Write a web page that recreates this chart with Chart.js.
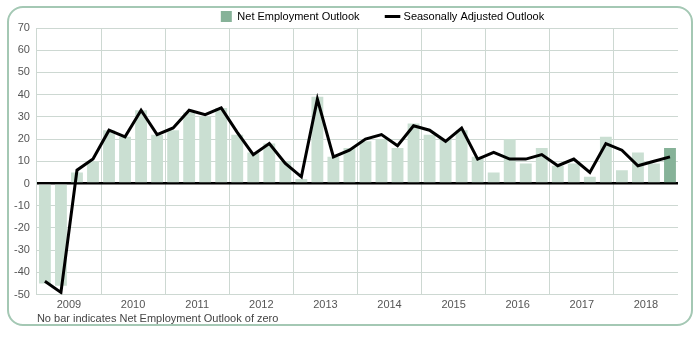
<!DOCTYPE html>
<html>
<head>
<meta charset="utf-8">
<script src="https://cdn.jsdelivr.net/npm/chart.js@4"></script>
<style>
  html, body { margin: 0; padding: 0; background: #fff; }
  #wrap { position: relative; width: 700px; height: 337px; }
  #frame {
    position: absolute; left: 7px; top: 6px; width: 682px; height: 316px;
    border: 2px solid #a4c8b4; border-radius: 16px;
  }
  #box { position: absolute; left: 0; top: 0; width: 700px; height: 337px; }
</style>
</head>
<body>
<div id="wrap">
  <div id="frame"></div>
  <div id="box"><canvas id="outlook"></canvas></div>
</div>
<script>
  const years = ['2009', '2010', '2011', '2012', '2013', '2014', '2015', '2016', '2017', '2018'];
  const quarters = [];
  years.forEach(function (y) {
    ['Q1', 'Q2', 'Q3', 'Q4'].forEach(function (q) { quarters.push(y + ' ' + q); });
  });

  // Net Employment Outlook (unadjusted)
  const netOutlook = [
    -45, -46, 5, 10,
    24, 21, 33, 22,
    24, 32, 30, 34,
    22, 14, 18, 10,
    2, 39, 12, 16,
    19, 20, 16, 27,
    22, 20, 24, 12,
    5, 20, 9, 16,
    8, 9, 3, 21,
    6, 14, 9, 16
  ];

  // Seasonally Adjusted Outlook
  const adjustedOutlook = [
    -44, -49, 6, 11,
    24, 21, 33, 22,
    25, 33, 31, 34,
    23, 13, 18, 9,
    3, 38, 12, 15,
    20, 22, 17, 26,
    24, 19, 25, 11,
    14, 11, 11, 13,
    8, 11, 5, 18,
    15, 8, 10, 12
  ];

  const yTicks = { min: -50, max: 70, step: 10 };

  const barLight = '#cadfd2';
  const barDark = '#86b298';
  const gridColor = '#cdd8d2';

  // nudge the legend right and down, as in the original
  const legendShift = {
    id: 'legendShift',
    afterLayout: function (chart) {
      if (chart.legend) {
        chart.legend.left += 40;
        chart.legend.right += 40;
        chart.legend.top += 4;
        chart.legend.bottom += 4;
      }
    }
  };

  Chart.defaults.font.family = "'Liberation Sans', Arial, sans-serif";
  Chart.defaults.font.size = 11;
  Chart.defaults.color = '#555';

  new Chart(document.getElementById('outlook'), {
    type: 'bar',
    data: {
      labels: quarters,
      datasets: [{
        type: 'line',
        label: 'Seasonally Adjusted Outlook',
        data: adjustedOutlook,
        borderColor: '#000',
        backgroundColor: '#000',
        borderWidth: 3,
        pointRadius: 0,
        tension: 0,
        order: 0
      }, {
        label: 'Net Employment Outlook',
        data: netOutlook,
        backgroundColor: netOutlook.map(function (v, i) {
          return i === netOutlook.length - 1 ? barDark : barLight;
        }),
        barPercentage: 0.74,
        categoryPercentage: 1,
        order: 1
      }]
    },
    options: {
      responsive: true,
      maintainAspectRatio: false,
      animation: false,
      layout: { padding: { left: 7, right: 22, top: 4, bottom: 11 } },
      plugins: {
        legend: {
          position: 'top',
          labels: {
            usePointStyle: true,
            padding: 3,
            color: '#333',
            font: { size: 11 },
            generateLabels: function () {
              return [
                { text: 'Net Employment Outlook        ', fillStyle: barDark, strokeStyle: barDark,
                  lineWidth: 0, pointStyle: 'rect', datasetIndex: 1 },
                { text: 'Seasonally Adjusted Outlook', fillStyle: '#000', strokeStyle: '#000',
                  lineWidth: 3, pointStyle: 'line', datasetIndex: 0 }
              ];
            }
          }
        },
        title: {
          display: true,
          text: 'No bar indicates Net Employment Outlook of zero',
          position: 'bottom',
          align: 'start',
          fullSize: false,
          color: '#444',
          font: { size: 11, weight: 'normal' },
          padding: { top: -3, bottom: 0 }
        },
        tooltip: { enabled: false }
      },
      scales: {
        x: {
          ticks: { display: false },
          border: { display: false },
          grid: {
            offset: true,
            drawTicks: false,
            color: function (ctx) {
              return ctx.index % 4 === 0 ? gridColor : 'rgba(0,0,0,0)';
            }
          }
        },
        x2: {
          type: 'category',
          labels: years,
          position: 'bottom',
          offset: true,
          border: { display: false },
          grid: { display: false, drawTicks: false },
          ticks: { padding: 4, color: '#555', maxRotation: 0, autoSkip: false }
        },
        y: {
          min: yTicks.min,
          max: yTicks.max,
          border: { display: false },
          ticks: { stepSize: yTicks.step, padding: 7, color: '#555' },
          grid: {
            drawTicks: false,
            color: function (ctx) {
              return ctx.tick && ctx.tick.value === 0 ? '#000' : gridColor;
            },
            lineWidth: function (ctx) {
              return ctx.tick && ctx.tick.value === 0 ? 2.5 : 1;
            }
          }
        }
      }
    },
    plugins: [legendShift]
  });
</script>
</body>
</html>
